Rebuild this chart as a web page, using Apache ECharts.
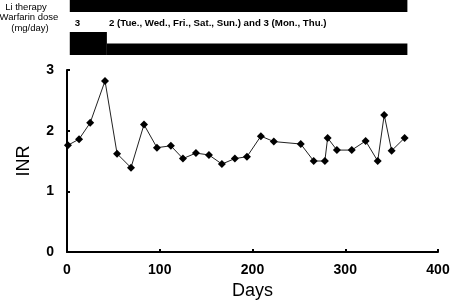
<!DOCTYPE html>
<html>
<head>
<meta charset="utf-8">
<script src="https://cdn.jsdelivr.net/npm/echarts@6/dist/echarts.min.js"></script>
<style>html,body{margin:0;padding:0;background:#fff}#main{width:467px;height:303px}</style>
</head>
<body>
<div id="main"></div>
<script>
// INR measurements
var days = [1, 13, 25, 41, 54, 69, 83, 97, 112, 125, 139, 153, 167, 181, 194, 209, 223, 252, 266, 278, 281, 291, 307, 322, 335, 342, 350, 364];
var inr = [1.76, 1.86, 2.13, 2.82, 1.62, 1.39, 2.10, 1.72, 1.75, 1.54, 1.63, 1.60, 1.45, 1.54, 1.57, 1.91, 1.82, 1.78, 1.50, 1.50, 1.88, 1.68, 1.68, 1.83, 1.50, 2.26, 1.67, 1.88];
var xTicks = [0, 100, 200, 300, 400];
var yTicks = [0, 1, 2, 3];
// treatment periods (days)
var liPeriod = [3, 367];
var doseStart = [3, 43];
var doseEnd = [43, 367];
var doseLevel = [3, 2];
var doseText = ['3', '2 (Tue., Wed., Fri., Sat., Sun.) and 3 (Mon., Thu.)'];

var FONT = '"Liberation Sans", Arial, sans-serif';
var myChart = echarts.init(document.getElementById('main'));

var doseData = [];
for (var i = 0; i < doseStart.length; i++) {
    doseData.push([doseStart[i], doseEnd[i], doseLevel[i], doseText[i]]);
}
var points = [];
for (var j = 0; j < days.length; j++) {
    points.push([days[j], inr[j]]);
}

var hiddenX = function (idx) {
    return { type: 'value', gridIndex: idx, min: xTicks[0], max: xTicks[xTicks.length - 1], show: false };
};

var option = {
    animation: false,
    backgroundColor: '#fff',
    grid: [
        { left: 67, right: 29, top: 70, bottom: 51, outerBoundsMode: 'none', containLabel: false },
        { left: 67, right: 29, top: 0, height: 12, outerBoundsMode: 'none' },
        { left: 67, right: 29, top: 32, height: 23, outerBoundsMode: 'none' }
    ],
    xAxis: [{
        type: 'value', gridIndex: 0,
        min: xTicks[0], max: xTicks[xTicks.length - 1], interval: 100,
        name: 'Days', nameLocation: 'middle', nameGap: 30,
        nameTextStyle: { fontFamily: FONT, fontSize: 18, color: '#000' },
        axisLine: { lineStyle: { color: '#000', width: 2 } },
        axisTick: { inside: true, length: 3, lineStyle: { color: '#000', width: 2 } },
        axisLabel: { fontFamily: FONT, fontSize: 14, fontWeight: 'bold', color: '#000', margin: 11 },
        splitLine: { show: false }
    }, hiddenX(1), hiddenX(2)],
    yAxis: [{
        type: 'value', gridIndex: 0,
        min: yTicks[0], max: yTicks[yTicks.length - 1], interval: 1,
        name: 'INR', nameLocation: 'middle', nameGap: 34,
        nameTextStyle: { fontFamily: FONT, fontSize: 18, color: '#000' },
        axisLine: { show: true, lineStyle: { color: '#000', width: 2 } },
        axisTick: { show: true, inside: true, length: 3, lineStyle: { color: '#000', width: 2 } },
        axisLabel: { fontFamily: FONT, fontSize: 14, fontWeight: 'bold', color: '#000', margin: 13 },
        splitLine: { show: false }
    },
    { type: 'value', gridIndex: 1, min: 0, max: 1, show: false },
    { type: 'value', gridIndex: 2, min: 1, max: 3, show: false }],
    graphic: [
        { type: 'text', x: 26, y: 7, style: { text: 'Li therapy', fill: '#000', font: '9.5px ' + FONT, align: 'center', verticalAlign: 'middle' } },
        { type: 'text', x: 29, y: 17, style: { text: 'Warfarin dose', fill: '#000', font: '9.5px ' + FONT, align: 'center', verticalAlign: 'middle' } },
        { type: 'text', x: 30, y: 28, style: { text: '(mg/day)', fill: '#000', font: '9.5px ' + FONT, align: 'center', verticalAlign: 'middle' } }
    ],
    series: [{
        type: 'line',
        xAxisIndex: 0, yAxisIndex: 0,
        data: points,
        symbol: 'diamond',
        symbolSize: 8,
        itemStyle: { color: '#000' },
        lineStyle: { color: '#222', width: 1 }
    }, {
        type: 'custom',
        xAxisIndex: 1, yAxisIndex: 1,
        data: [liPeriod],
        renderItem: function (params, api) {
            var p0 = api.coord([api.value(0), 1]);
            var p1 = api.coord([api.value(1), 0]);
            return { type: 'rect', shape: { x: p0[0], y: p0[1], width: p1[0] - p0[0], height: p1[1] - p0[1] }, style: { fill: '#000' } };
        }
    }, {
        type: 'custom',
        xAxisIndex: 2, yAxisIndex: 2,
        data: doseData,
        renderItem: function (params, api) {
            var p0 = api.coord([api.value(0), api.value(2)]);
            var p1 = api.coord([api.value(1), 1]);
            return {
                type: 'group',
                children: [
                    { type: 'rect', shape: { x: p0[0], y: p0[1], width: p1[0] - p0[0], height: p1[1] - p0[1] }, style: { fill: '#000' } },
                    { type: 'text', style: { text: doseData[params.dataIndex][3], x: p0[0] + (params.dataIndex === 0 ? 5 : 2), y: params.coordSys.y - 9, fill: '#000', font: 'bold 9.7px ' + FONT, verticalAlign: 'middle' } }
                ]
            };
        }
    }]
};
myChart.setOption(option);
</script>
</body>
</html>
